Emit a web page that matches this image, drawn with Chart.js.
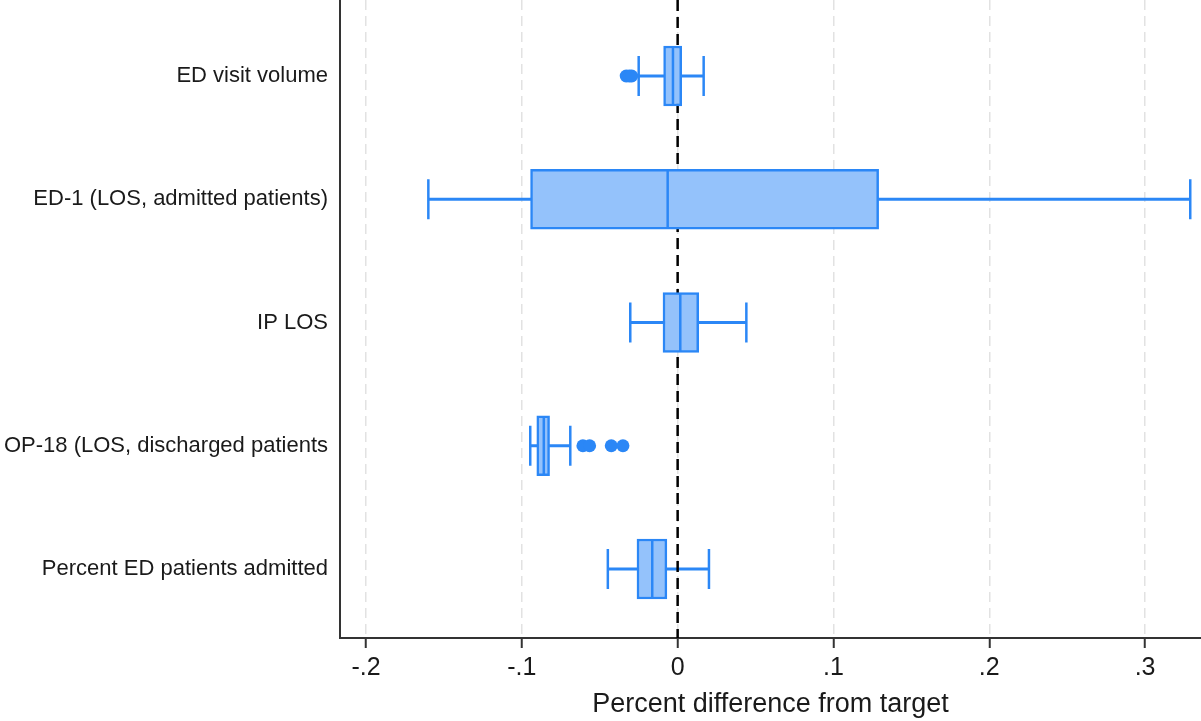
<!DOCTYPE html>
<html>
<head>
<meta charset="utf-8">
<script src="https://cdn.jsdelivr.net/npm/chart.js@4"></script>
<style>
  body { margin: 0; background: #fff; }
  #wrap { width: 1201px; height: 721px; }
</style>
</head>
<body>
<div id="wrap"><canvas id="myChart"></canvas></div>
<script>
// box plot summary (percent difference from target)
const categories = ['ED visit volume', 'ED-1 (LOS, admitted patients)', 'IP LOS', 'OP-18 (LOS, discharged patients', 'Percent ED patients admitted'];
const whiskerLow = [-0.025, -0.160, -0.0304, -0.0946, -0.0448];
const q1 = [-0.009, -0.0944, -0.0094, -0.0904, -0.0261];
const median = [-0.003, -0.0064, 0.0017, -0.0859, -0.0163];
const q3 = [0.0026, 0.129, 0.0135, -0.0822, -0.0069];
const whiskerHigh = [0.0167, 0.329, 0.0441, -0.0689, 0.0201];
const outliers = [[-0.0330, -0.0310, -0.0295], [], [], [-0.0608, -0.0565, -0.0426, -0.0351], []];
const xTicks = [-0.2, -0.1, 0, 0.1, 0.2, 0.3];
const xTickLabels = ['-.2', '-.1', '0', '.1', '.2', '.3'];

const blue = '#2b87f6';
const boxFill = '#94c2fb';
const font = 'Liberation Sans, Arial, Helvetica, sans-serif';

const pos = categories.map((c, i) => i + 1);

// dashed reference line at the target (0), drawn over the whiskers, under the boxes
const targetLine = {
  id: 'targetLine',
  afterDatasetDraw(chart, args) {
    if (args.meta.label !== 'whiskers') return;
    const ctx = chart.ctx, x = chart.scales.x.getPixelForValue(0), a = chart.chartArea;
    ctx.save();
    ctx.strokeStyle = '#000';
    ctx.lineWidth = 2.5;
    ctx.setLineDash([11, 6]);
    ctx.beginPath();
    ctx.moveTo(x, a.top);
    ctx.lineTo(x, a.bottom);
    ctx.stroke();
    ctx.restore();
  }
};

const ctx = document.getElementById('myChart');

new Chart(ctx, {
  type: 'bar',
  data: {
    datasets: [
      {
        label: 'outliers',
        type: 'scatter',
        order: 1,
        data: outliers.flatMap((arr, i) => arr.map(v => ({ x: v, y: pos[i] }))),
        pointRadius: 6.5,
        pointBackgroundColor: blue,
        pointBorderWidth: 0
      },
      {
        label: 'median',
        type: 'scatter',
        order: 2,
        data: median.map((v, i) => ({ x: v, y: pos[i] })),
        pointStyle: 'line',
        rotation: 90,
        pointRadius: 29,
        pointBorderColor: blue,
        pointBorderWidth: 2.5
      },
      {
        label: 'caps',
        type: 'scatter',
        order: 3,
        data: whiskerLow.map((v, i) => ({ x: v, y: pos[i] })).concat(whiskerHigh.map((v, i) => ({ x: v, y: pos[i] }))),
        pointStyle: 'line',
        rotation: 90,
        pointRadius: 20,
        pointBorderColor: blue,
        pointBorderWidth: 2.5
      },
      {
        label: 'box',
        order: 4,
        grouped: false,
        data: q1.map((v, i) => ({ x: [v, q3[i]], y: pos[i] })),
        backgroundColor: boxFill,
        borderColor: blue,
        borderWidth: 2.5,
        borderSkipped: false,
        barPercentage: 1,
        categoryPercentage: 1,
        maxBarThickness: 60
      },
      {
        label: 'whiskers',
        order: 5,
        grouped: false,
        data: whiskerLow.map((v, i) => ({ x: [v, whiskerHigh[i]], y: pos[i] })),
        backgroundColor: blue,
        borderWidth: 0,
        barPercentage: 1,
        categoryPercentage: 1,
        maxBarThickness: 2.5
      }
    ]
  },
  options: {
    indexAxis: 'y',
    responsive: true,
    maintainAspectRatio: false,
    animation: false,
    layout: { padding: 0, autoPadding: false },
    plugins: { legend: { display: false }, tooltip: { enabled: false } },
    scales: {
      x: {
        type: 'linear',
        min: -0.2167,
        max: 0.3359,
        afterBuildTicks: s => { s.ticks = xTicks.map(v => ({ value: v })); },
        afterFit: s => { s.height = 83; s.paddingLeft = 0; s.paddingRight = 0; },
        ticks: {
          padding: 5,
          color: '#1a1a1a',
          font: { family: font, size: 25 },
          callback: (v, i) => xTickLabels[i]
        },
        grid: {
          color: '#e2e2e2',
          lineWidth: 1.5,
          drawTicks: true,
          tickLength: 10,
          tickColor: '#333',
          tickWidth: 2,
          tickBorderDash: []
        },
        border: { display: true, color: '#333', width: 2, dash: [10, 6] },
        title: {
          display: true,
          text: 'Percent difference from target',
          color: '#1a1a1a',
          font: { family: font, size: 27 },
          padding: { top: 4, bottom: 0 }
        }
      },
      y: {
        type: 'linear',
        reverse: true,
        offset: false,
        min: 0.3834,
        max: 5.5599,
        afterBuildTicks: s => { s.ticks = pos.map(v => ({ value: v })); },
        afterFit: s => { s.width = 340; s.paddingTop = 0; s.paddingBottom = 0; },
        ticks: {
          padding: 12,
          color: '#1a1a1a',
          font: { family: font, size: 22 },
          callback: v => categories[v - 1]
        },
        grid: { display: false, drawTicks: false, offset: false },
        border: { display: true, color: '#333', width: 2 }
      }
    }
  },
  plugins: [targetLine]
});
</script>
</body>
</html>
